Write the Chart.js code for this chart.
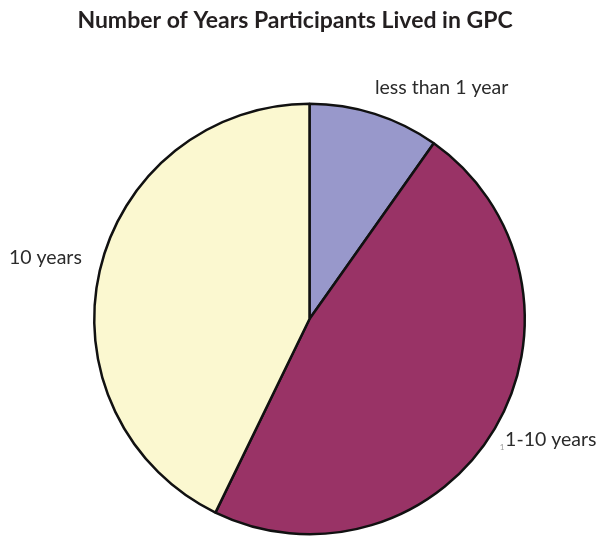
<!DOCTYPE html>
<html>
<head>
<meta charset="utf-8">
<script src="https://cdn.jsdelivr.net/npm/chart.js@4/dist/chart.umd.min.js"></script>
<style>
html,body{margin:0;padding:0;background:#fff;}
#wrap{width:596px;height:539px;position:relative;}
</style>
</head>
<body>
<div id="wrap"><canvas id="c" width="596" height="539"></canvas></div>
<script>
const title = "Number of Years Participants Lived in GPC";
const categories = ["less than 1 year", "1-10 years", "10 years"];
const values = [9.8, 47.4, 42.8];
const colors = ["#9898cb", "#993366", "#fbf8d0"];

// label centres relative to the pie centre, in units of the pie radius
const labelOffsets = [
  {fx: 0.614, fy: -1.075},
  {fx: 1.121, fy: 0.561},
  {fx: -1.227, fy: -0.285}
];

const labelPlugin = {
  id: "labels",
  afterDraw(chart) {
    const ctx = chart.ctx;
    ctx.save();
    ctx.fillStyle = "#231f20";
    ctx.font = "bold 23px Lato";
    ctx.textAlign = "center";
    ctx.textBaseline = "middle";
    ctx.fillText(title, 295, 21);
    const meta = chart.getDatasetMeta(0);
    meta.data.forEach((arc, i) => {
      const p = labelOffsets[i];
      const R = arc.outerRadius;
      const x = arc.x + p.fx * R;
      const y = arc.y + p.fy * R;
      ctx.font = "19.5px Lato";
      ctx.fillStyle = "#2b2b2b";
      ctx.textAlign = "center";
      ctx.fillText(categories[i], x, y);
      if (i === 1) {
        const w = ctx.measureText(categories[i]).width;
        ctx.font = "8px Lato";
        ctx.fillStyle = "#999";
        ctx.fillText("1", x - w / 2 - 3, y + 8);
      }
    });
    ctx.restore();
  }
};

new Chart(document.getElementById("c"), {
  type: "pie",
  data: {
    labels: categories,
    datasets: [{
      data: values,
      backgroundColor: colors,
      borderColor: "#111111",
      borderWidth: 2.5,
      hoverOffset: 0
    }]
  },
  options: {
    responsive: false,
    animation: false,
    events: [],
    layout: {padding: {top: 102, bottom: 3, left: 93, right: 70}},
    plugins: {
      legend: {display: false},
      title: {display: false},
      tooltip: {enabled: false}
    }
  },
  plugins: [labelPlugin]
});
</script>
</body>
</html>
